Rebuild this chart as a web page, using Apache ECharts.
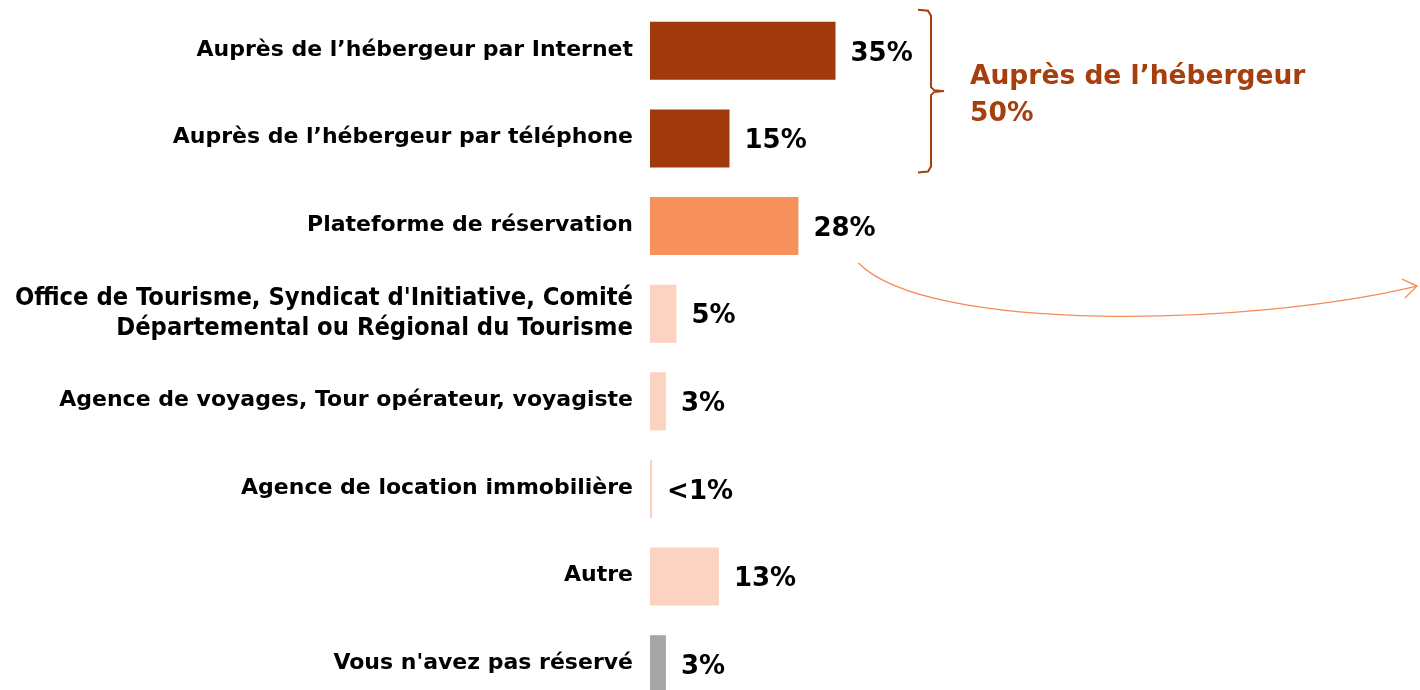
<!DOCTYPE html>
<html>
<head>
<meta charset="utf-8">
<script src="https://cdn.jsdelivr.net/npm/echarts@6/dist/echarts.min.js"></script>
<style>
  html, body { margin: 0; padding: 0; background: #ffffff; }
  #main { width: 1420px; height: 690px; }
</style>
</head>
<body>
<div id="main"></div>
<script>
// données
var categories = [
  'Auprès de l\u2019hébergeur par Internet',
  'Auprès de l\u2019hébergeur par téléphone',
  'Plateforme de réservation',
  'Office de Tourisme, Syndicat d\'Initiative, Comité\nDépartemental ou Régional du Tourisme',
  'Agence de voyages, Tour opérateur, voyagiste',
  'Agence de location immobilière',
  'Autre',
  'Vous n\'avez pas réservé'
];
var values = [35, 15, 28, 5, 3, 0.4, 13, 3];
var valueLabels = ['35%', '15%', '28%', '5%', '3%', '<1%', '13%', '3%'];
var barColors = ['#A0390B', '#A0390B', '#F6915C', '#FBD3C0', '#FBD3C0', '#FBD3C0', '#FBD3C0', '#A6A6A6'];
var groupTitle = 'Auprès de l\u2019hébergeur';
var groupValue = '50%';

var chart = echarts.init(document.getElementById('main'));

var option = {
  backgroundColor: '#ffffff',
  animation: false,
  grid: { left: 650, top: 7, width: 530, height: 701, outerBoundsMode: 'none', containLabel: false },
  xAxis: { type: 'value', min: 0, max: 100, show: false },
  yAxis: {
    type: 'category',
    inverse: true,
    data: categories,
    axisLine: { show: false },
    axisTick: { show: false },
    axisLabel: {
      margin: 17,
      verticalAlign: 'middle',
      formatter: function (v) {
        if (v.indexOf('Office') === 0) {
          return '{o|' + v.split('\n').join('}\n{o|') + '}';
        }
        return '{n|' + v + '}';
      },
      rich: {
        n: { fontFamily: 'DejaVu Sans', fontWeight: 'bold', fontSize: 22, color: '#000', padding: [0, 0, 2, 0] },
        o: { fontFamily: 'DejaVu Sans Condensed', fontWeight: 'bold', fontSize: 25.3, lineHeight: 30, color: '#000' }
      }
    }
  },
  series: [{
    type: 'bar',
    barWidth: 58,
    data: values.map(function (v, i) {
      return { value: v, itemStyle: { color: barColors[i] } };
    }),
    label: {
      show: true,
      position: 'right',
      distance: 15,
      offset: [0, 3],
      fontFamily: 'DejaVu Sans',
      fontWeight: 'bold',
      fontSize: 26,
      color: '#000000',
      formatter: function (p) { return valueLabels[p.dataIndex]; }
    }
  }]
};
chart.setOption(option);

// accolade et flèche, positionnées à partir des barres
var c0 = chart.convertToPixel({ yAxisIndex: 0 }, 0);
var c1 = chart.convertToPixel({ yAxisIndex: 0 }, 1);
var c2 = chart.convertToPixel({ yAxisIndex: 0 }, 2);
var x2 = chart.convertToPixel({ xAxisIndex: 0 }, values[2]);
var bx = 931;
var bTop = c0 - 41, bBot = c1 + 34, bMid = (bTop + bBot) / 2;
var brown = '#A63E0E';
var arrowCol = '#F48C5A';

chart.setOption({
  graphic: [
    {
      type: 'polyline',
      shape: { points: [[918, bTop], [bx - 3, bTop + 1], [bx, bTop + 6], [bx, bMid - 4], [bx + 3, bMid - 1], [bx + 13, bMid], [bx + 3, bMid + 1], [bx, bMid + 4], [bx, bBot - 6], [bx - 3, bBot - 1], [918, bBot]] },
      style: { stroke: brown, lineWidth: 2, fill: null }
    },
    {
      type: 'text',
      x: 970,
      y: bMid - 33,
      style: {
        text: groupTitle + '\n' + groupValue,
        fontFamily: 'DejaVu Sans',
        fontWeight: 'bold',
        fontSize: 26.5,
        lineHeight: 37,
        fill: brown
      }
    },
    {
      type: 'bezierCurve',
      shape: { x1: x2 + 60, y1: c2 + 37, cpx1: x2 + 130, cpy1: c2 + 108, cpx2: 1250, cpy2: c2 + 100, x2: 1417, y2: c2 + 60 },
      style: { stroke: arrowCol, lineWidth: 1.3, fill: null }
    },
    {
      type: 'polyline',
      shape: { points: [[1402, c2 + 53], [1417, c2 + 60], [1405, c2 + 72]] },
      style: { stroke: arrowCol, lineWidth: 1.3, fill: null }
    }
  ]
});
</script>
</body>
</html>
